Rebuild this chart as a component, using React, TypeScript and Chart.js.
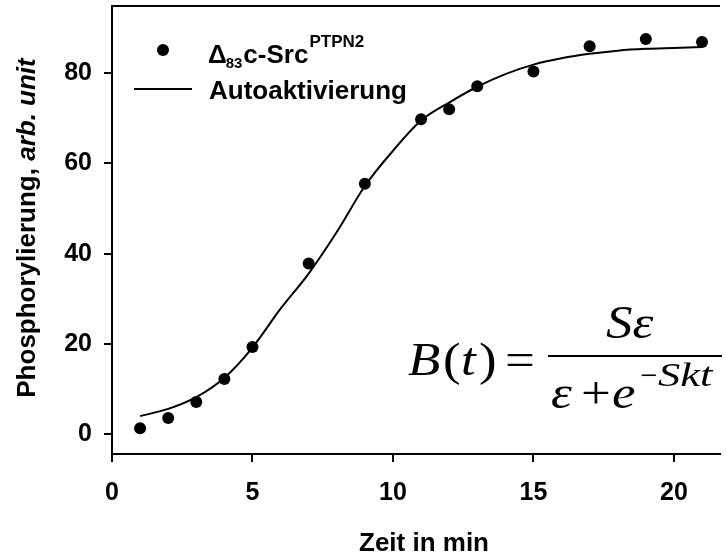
import { useEffect, useRef } from "react";
import { Chart, registerables } from "chart.js";

Chart.register(...registerables);

// Measured data points (time in min, phosphorylation arb. unit)
const timePoints = [1, 2, 3, 4, 5, 7, 9, 11, 12, 13, 15, 17, 19, 21];
const phosValues = [1.3, 3.6, 7.1, 12.2, 19.3, 37.8, 55.5, 69.8, 72.0, 77.1, 80.4, 86.0, 87.6, 86.9];

// Fitted autoactivation curve
const fitTimes = [1, 2, 3, 4, 5, 6, 7, 8, 9, 10, 11, 12, 13, 14, 15, 16, 17, 18, 19, 20, 21];
const fitValues = [4.0, 5.6, 8.2, 12.5, 19.2, 27.8, 35.6, 44.8, 55.0, 62.8, 69.5, 73.5, 77.0, 79.8, 81.9, 83.3, 84.3, 85.0, 85.4, 85.6, 85.8];

const xTicks = [0, 5, 10, 15, 20];
const yTicks = [0, 20, 40, 60, 80];

const legendSeries = "c-Src";
const legendSub = "83";
const legendSup = "PTPN2";
const legendFit = "Autoaktivierung";
const xTitle = "Zeit in min";
const yTitleMain = "Phosphorylierung, ";
const yTitleItalic = "arb. unit";

const SANS = "'Liberation Sans', Arial, sans-serif";
const SERIF = "'Liberation Serif', 'Times New Roman', serif";

function stretchText(ctx: CanvasRenderingContext2D, t: string, x: number, y: number, font: string, sx = 1.15) {
  ctx.save();
  ctx.font = font;
  ctx.translate(x, y);
  ctx.scale(sx, 1);
  ctx.fillText(t, 0, 0);
  ctx.restore();
}

const overlay = {
  id: "overlay",
  afterDraw(chart: any) {
    const ctx = chart.ctx as CanvasRenderingContext2D;
    const a = chart.chartArea;
    ctx.save();
    ctx.fillStyle = "#000";
    ctx.strokeStyle = "#000";

    // top frame line
    ctx.lineWidth = 2;
    ctx.beginPath();
    ctx.moveTo(a.left - 1, a.top);
    ctx.lineTo(a.right, a.top);
    ctx.stroke();

    // legend
    ctx.beginPath();
    ctx.arc(163, 50, 6, 0, Math.PI * 2);
    ctx.fill();
    ctx.textBaseline = "alphabetic";
    ctx.textAlign = "left";
    ctx.font = `bold 26px ${SANS}`;
    ctx.fillText("\u0394", 208, 63);
    const w = ctx.measureText("\u0394").width;
    ctx.font = `bold 15px ${SANS}`;
    ctx.fillText(legendSub, 208 + w - 1, 68);
    const w2 = ctx.measureText(legendSub).width;
    ctx.font = `bold 26px ${SANS}`;
    const xs = 208 + w - 1 + w2 + 1;
    ctx.fillText(legendSeries, xs, 63);
    const w3 = ctx.measureText(legendSeries).width;
    ctx.font = `bold 17px ${SANS}`;
    ctx.fillText(legendSup, xs + w3 + 1, 47);

    ctx.lineWidth = 2;
    ctx.beginPath();
    ctx.moveTo(134, 89);
    ctx.lineTo(192, 89);
    ctx.stroke();
    ctx.font = `bold 26px ${SANS}`;
    ctx.fillText(legendFit, 209, 99);

    // x title
    ctx.textAlign = "center";
    ctx.fillText(xTitle, 424, 551);

    // y title (rotated)
    ctx.save();
    ctx.translate(35, 228);
    ctx.rotate(-Math.PI / 2);
    ctx.textAlign = "left";
    ctx.font = `bold 26px ${SANS}`;
    const m1 = ctx.measureText(yTitleMain).width;
    ctx.font = `italic bold 26px ${SANS}`;
    const m2 = ctx.measureText(yTitleItalic).width;
    const start = -(m1 + m2) / 2;
    ctx.font = `bold 26px ${SANS}`;
    ctx.fillText(yTitleMain, start, 0);
    ctx.font = `italic bold 26px ${SANS}`;
    ctx.fillText(yTitleItalic, start + m1, 0);
    ctx.restore();

    // formula B(t) = S eps / (eps + e^{-Skt})
    ctx.textAlign = "left";
    const it = `italic 46px ${SERIF}`;
    const rg = `46px ${SERIF}`;
    const by = 375;
    stretchText(ctx, "B", 408, by, it);
    stretchText(ctx, "(", 443, by, rg);
    stretchText(ctx, "t", 461, by, it);
    stretchText(ctx, ")", 479, by, rg);
    stretchText(ctx, "=", 505, by, rg);
    // fraction bar
    ctx.lineWidth = 2;
    ctx.beginPath();
    ctx.moveTo(548, 356);
    ctx.lineTo(722, 356);
    ctx.stroke();
    // numerator
    stretchText(ctx, "S\u03b5", 606, 338, it);
    // denominator
    stretchText(ctx, "\u03b5", 551, 408, it);
    stretchText(ctx, "+", 581, 408, rg);
    stretchText(ctx, "e", 612, 408, it);
    stretchText(ctx, "\u2212", 640, 386, `32px ${SERIF}`, 0.95);
    stretchText(ctx, "Skt", 658, 386, `italic 33px ${SERIF}`, 1.35);

    ctx.restore();
  },
};

export default function App() {
  const ref = useRef<HTMLCanvasElement | null>(null);

  useEffect(() => {
    if (!ref.current) return;
    const chart = new Chart(ref.current, {
      type: "scatter",
      data: {
        datasets: [
          {
            type: "line",
            label: legendFit,
            data: fitTimes.map((t, i) => ({ x: t, y: fitValues[i] })),
            borderColor: "#000",
            borderWidth: 2,
            pointRadius: 0,
            fill: false,
            cubicInterpolationMode: "monotone",
          } as any,
          {
            type: "scatter",
            label: legendSeries,
            data: timePoints.map((t, i) => ({ x: t, y: phosValues[i] })),
            backgroundColor: "#000",
            borderColor: "#000",
            pointRadius: 6,
            pointBorderWidth: 0,
          },
        ],
      },
      options: {
        animation: false,
        responsive: false,
        maintainAspectRatio: false,
        layout: { padding: { top: 6, right: 0, left: 0, bottom: 0 } },
        plugins: {
          legend: { display: false },
          tooltip: { enabled: false },
          title: { display: false },
        },
        scales: {
          x: {
            type: "linear",
            min: 0,
            max: 21.64,
            afterBuildTicks: (s: any) => {
              s.ticks = xTicks.map((v) => ({ value: v }));
            },
            afterFit: (s: any) => {
              s.height = 103;
              s.paddingLeft = 0;
              s.paddingRight = 0;
            },
            grid: {
              drawOnChartArea: false,
              drawTicks: true,
              tickLength: 8,
              color: "#000",
              lineWidth: 2,
            },
            border: { display: true, color: "#000", width: 2 },
            ticks: {
              color: "#000",
              padding: 16,
              font: { family: SANS, size: 25, weight: "bold" },
              maxRotation: 0,
            },
          },
          y: {
            type: "linear",
            min: -4.4,
            max: 94.9,
            afterBuildTicks: (s: any) => {
              s.ticks = yTicks.map((v) => ({ value: v }));
            },
            afterFit: (s: any) => {
              s.width = 112;
              s.paddingTop = 0;
              s.paddingBottom = 0;
            },
            grid: {
              drawOnChartArea: false,
              drawTicks: true,
              tickLength: 8,
              color: "#000",
              lineWidth: 2,
            },
            border: { display: true, color: "#000", width: 2 },
            ticks: {
              color: "#000",
              padding: 12,
              font: { family: SANS, size: 25, weight: "bold" },
            },
          },
        },
      },
      plugins: [overlay],
    });
    return () => chart.destroy();
  }, []);

  return (
    <div style={{ position: "absolute", left: 0, top: 0, width: 726, height: 557, background: "#fff" }}>
      <canvas ref={ref} width={726} height={557} style={{ width: 726, height: 557, display: "block" }} />
    </div>
  );
}
